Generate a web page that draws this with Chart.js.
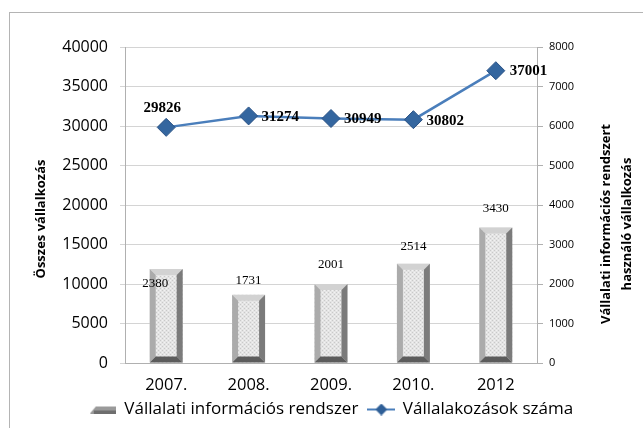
<!DOCTYPE html>
<html>
<head>
<meta charset="utf-8">
<script src="https://cdn.jsdelivr.net/npm/chart.js@4.4.0/dist/chart.umd.min.js"></script>
<style>
  html, body { margin: 0; padding: 0; background: #fff; }
  #wrap { position: relative; width: 643px; height: 428px; overflow: hidden; }
  #frame { position: absolute; left: 9px; top: 12px; width: 700px; height: 500px; border: 1px solid #b4b4b4; }
  #chart { position: absolute; left: 0; top: 0; }
</style>
</head>
<body>
<div id="wrap">
  <div id="frame"></div>
  <canvas id="chart" width="643" height="428"></canvas>
</div>
<script>
// ===== DATA =====
const years = ["2007.", "2008.", "2009.", "2010.", "2012"];
const infoSystemUsers = [2380, 1731, 2001, 2514, 3430];      // right axis (bars)
const totalCompanies = [29826, 31274, 30949, 30802, 37001];  // left axis (line)
const leftAxisMax = 40000, leftAxisStep = 5000;
const rightAxisMax = 8000, rightAxisStep = 1000;

const barLabel = "Vállalati információs rendszer";
const lineLabel = "Vállalakozások száma";
const leftTitle = "Összes vállalkozás";
const rightTitleLines = ["Vállalati információs rendszert", "használó vállalkozás"];

// label nudges (px) as placed in the original
const barLabelShift = [[-11, 15], [0, -14], [0, -19], [0, -17], [0, -19]];
const lineLabelShift = [[-4, -19, "center"], [13, 1, "left"], [13, 1, "left"], [13, 1, "left"], [14, 0, "left"]];

const SANS = "'Open Sans', 'DejaVu Sans', sans-serif";
const SERIF = "'Liberation Serif', 'DejaVu Serif', serif";

// ===== helpers =====
function makeDotPattern() {
  const c = document.createElement("canvas");
  c.width = 4; c.height = 4;
  const g = c.getContext("2d");
  g.fillStyle = "#e4e4e4"; g.fillRect(0, 0, 4, 4);
  g.fillStyle = "#c9c9c9";
  g.fillRect(0, 0, 1, 1); g.fillRect(2, 2, 1, 1);
  g.fillStyle = "#f2f2f2";
  g.fillRect(2, 0, 1, 1); g.fillRect(0, 2, 1, 1);
  return document.getElementById("chart").getContext("2d").createPattern(c, "repeat");
}

function barLegendIcon() {
  const c = document.createElement("canvas");
  c.width = 26; c.height = 8;
  const g = c.getContext("2d");
  g.fillStyle = "#9a9a9a";
  g.beginPath(); g.moveTo(0, 8); g.lineTo(6, 1); g.lineTo(26, 1); g.lineTo(26, 8); g.closePath(); g.fill();
  g.fillStyle = "#6e6e6e"; g.fillRect(4, 5, 22, 3);
  return c;
}

function lineLegendIcon() {
  const c = document.createElement("canvas");
  c.width = 28; c.height = 12;
  const g = c.getContext("2d");
  g.strokeStyle = "#4a7ebb"; g.lineWidth = 2;
  g.beginPath(); g.moveTo(0, 6); g.lineTo(28, 6); g.stroke();
  g.fillStyle = "#2f5f97";
  g.beginPath(); g.moveTo(14, 0); g.lineTo(20, 6); g.lineTo(14, 12); g.lineTo(8, 6); g.closePath(); g.fill();
  return c;
}

function poly(ctx, pts, color) {
  ctx.fillStyle = color;
  ctx.beginPath();
  ctx.moveTo(pts[0][0], pts[0][1]);
  for (let i = 1; i < pts.length; i++) ctx.lineTo(pts[i][0], pts[i][1]);
  ctx.closePath();
  ctx.fill();
}

// ===== PLUGINS =====
// bevelled edges on bars, drawn from the bar elements' geometry
const bevelBars = {
  id: "bevelBars",
  afterDatasetDraw(chart, args) {
    if (args.index !== 0) return;
    const ctx = chart.ctx;
    ctx.save();
    args.meta.data.forEach(bar => {
      const { x, y, base, width } = bar.getProps(["x", "y", "base", "width"], true);
      const l = x - width / 2, r = x + width / 2, t = y, b = base, d = 6;
      poly(ctx, [[l, t], [r, t], [r - d, t + d], [l + d, t + d]], "#d2d2d2");
      poly(ctx, [[l, t], [l + d, t + d], [l + d, b - d], [l, b]], "#ababab");
      poly(ctx, [[r, t], [r - d, t + d], [r - d, b - d], [r, b]], "#7b7b7b");
      poly(ctx, [[l, b], [l + d, b - d], [r - d, b - d], [r, b]], "#5c5c5c");
    });
    ctx.restore();
  }
};

// value labels
const valueLabels = {
  id: "valueLabels",
  afterDatasetsDraw(chart) {
    const ctx = chart.ctx;
    ctx.save();
    ctx.fillStyle = "#000";
    ctx.textBaseline = "middle";

    ctx.font = "13px " + SERIF;
    ctx.textAlign = "center";
    chart.getDatasetMeta(0).data.forEach((bar, i) => {
      const [dx, dy] = barLabelShift[i];
      ctx.fillText(String(infoSystemUsers[i]), bar.x + dx, bar.y + dy);
    });

    ctx.font = "bold 15px " + SERIF;
    chart.getDatasetMeta(1).data.forEach((pt, i) => {
      const [dx, dy, align] = lineLabelShift[i];
      ctx.textAlign = align;
      ctx.fillText(String(totalCompanies[i]), pt.x + dx, pt.y + dy);
    });
    ctx.restore();
  }
};

// axis titles read bottom-to-top; the right one has two lines
const axisTitles = {
  id: "axisTitles",
  afterDraw(chart) {
    const ctx = chart.ctx;
    const yl = chart.scales.y, yr = chart.scales.y1;
    const cy = (yl.top + yl.bottom) / 2 + 14;
    const put = (text, x, y) => {
      ctx.save();
      ctx.translate(x, y);
      ctx.rotate(-Math.PI / 2);
      ctx.fillText(text, 0, 0);
      ctx.restore();
    };
    ctx.save();
    ctx.fillStyle = "#000";
    ctx.font = "bold 13px " + SANS;
    ctx.textAlign = "center";
    ctx.textBaseline = "middle";
    put(leftTitle, yl.left + 21, cy);
    put(rightTitleLines[0], yr.right - 37, cy + 5);
    put(rightTitleLines[1], yr.right - 16, cy + 5);
    ctx.restore();
  }
};

// ===== CHART =====
const ctx = document.getElementById("chart");
new Chart(ctx, {
  data: {
    labels: years,
    datasets: [
      {
        type: "bar",
        label: barLabel,
        data: infoSystemUsers,
        yAxisID: "y1",
        backgroundColor: makeDotPattern(),
        borderWidth: 0,
        barPercentage: 0.4,
        categoryPercentage: 1,
        order: 2
      },
      {
        type: "line",
        label: lineLabel,
        data: totalCompanies,
        yAxisID: "y",
        borderColor: "#4a7ebb",
        borderWidth: 2.5,
        pointStyle: "rectRot",
        pointRadius: 9,
        pointBackgroundColor: "#34669f",
        pointBorderColor: "#2a5285",
        pointBorderWidth: 1,
        tension: 0,
        order: 1
      }
    ]
  },
  options: {
    responsive: false,
    animation: false,
    layout: { padding: { left: 20, top: 47, right: 0, bottom: 0 } },
    plugins: {
      tooltip: { enabled: false },
      legend: {
        position: "bottom",
        labels: {
          color: "#000",
          font: { family: SANS, size: 17 },
          usePointStyle: true,
          pointStyleWidth: 26,
          padding: 10,
          generateLabels() {
            return [
              { text: barLabel, pointStyle: barLegendIcon(), fillStyle: "#999", strokeStyle: "#999", lineWidth: 0, datasetIndex: 0 },
              { text: lineLabel, pointStyle: lineLegendIcon(), fillStyle: "#4a7ebb", strokeStyle: "#4a7ebb", lineWidth: 0, datasetIndex: 1 }
            ];
          }
        }
      }
    },
    scales: {
      x: {
        offset: true,
        grid: { display: false },
        border: { display: true, color: "#b0b0b0" },
        ticks: { color: "#000", font: { family: SANS, size: 16.5 }, padding: 4 },
        afterFit(scale) { scale.height = 28; }
      },
      y: {
        position: "left",
        min: 0,
        max: leftAxisMax,
        ticks: { stepSize: leftAxisStep, color: "#000", font: { family: SANS, size: 16 }, padding: 12, callback: v => String(v) },
        grid: { color: "#d4d4d4", tickLength: 5 },
        border: { display: true, color: "#b0b0b0" },
        afterFit(scale) { scale.width = 105; }
      },
      y1: {
        position: "right",
        min: 0,
        max: rightAxisMax,
        ticks: { stepSize: rightAxisStep, color: "#000", font: { family: SANS, size: 11 }, padding: 6, callback: v => String(v) },
        grid: { drawOnChartArea: false, color: "#b0b0b0", tickLength: 6 },
        border: { display: true, color: "#b0b0b0" },
        afterFit(scale) { scale.width = 106; }
      }
    }
  },
  plugins: [bevelBars, valueLabels, axisTitles]
});
</script>
</body>
</html>
